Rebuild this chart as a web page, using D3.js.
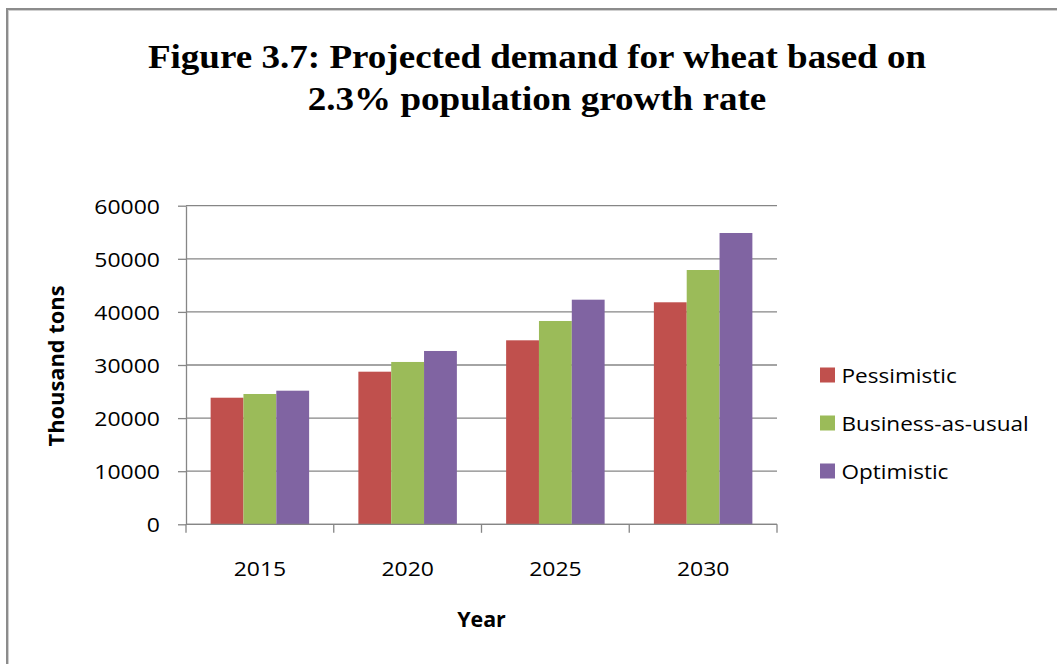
<!DOCTYPE html>
<html>
<head>
<meta charset="utf-8">
<script src="https://cdn.jsdelivr.net/npm/d3@7"></script>
<style>
  html, body { margin: 0; padding: 0; background: #fff; }
  svg { display: block; }
</style>
</head>
<body>
<script>
// ---- data ----
const years = ["2015", "2020", "2025", "2030"];
const seriesNames = ["Pessimistic", "Business-as-usual", "Optimistic"];
const pessimistic = [23840, 28740, 34650, 41810];
const businessAsUsual = [24540, 30570, 38290, 47890];
const optimistic = [25160, 32640, 42300, 54860];
const yTicks = [0, 10000, 20000, 30000, 40000, 50000, 60000];
const titleLines = ["Figure 3.7: Projected demand for wheat based on", "2.3% population growth rate"];
const yAxisTitle = "Thousand tons";
const xAxisTitle = "Year";
const seriesColors = ["#C0504D", "#9BBB59", "#8064A2"];

const seriesValues = [pessimistic, businessAsUsual, optimistic];
const rows = [];
years.forEach((yr, i) => seriesNames.forEach((s, j) => rows.push({ year: yr, series: s, value: seriesValues[j][i] })));

// ---- layout ----
const W = 1057, H = 664;
const plot = { left: 186, right: 777, top: 205.7, bottom: 524.3 };
const gridColor = "#868686";
const sansFont = "'Open Sans', 'Noto Sans', sans-serif";

// stretch text along its run so the glyphs take the wider set width
function widen(sel, k) {
  sel.each(function () {
    const len = this.getComputedTextLength();
    this.setAttribute("textLength", len * k);
    this.setAttribute("lengthAdjust", "spacingAndGlyphs");
  });
}

const svg = d3.select("body").append("svg").attr("width", W).attr("height", H);

// chart frame
svg.append("rect").attr("x", 7).attr("y", 9).attr("width", W + 40).attr("height", H + 40)
  .attr("fill", "none").attr("stroke", "#8c8c8c").attr("stroke-width", 2);
svg.append("rect").attr("x", 8.5).attr("y", 10.5).attr("width", W + 40).attr("height", H + 40)
  .attr("fill", "none").attr("stroke", "#cfcfcf").attr("stroke-width", 1);

// title
const title = svg.append("g").attr("transform", "translate(537,0)");
title.selectAll("text").data(titleLines).join("text")
  .attr("x", 0).attr("y", (d, i) => 68 + i * 42)
  .attr("text-anchor", "middle")
  .attr("font-family", "'Liberation Serif', 'Times New Roman', serif")
  .attr("font-weight", "bold").attr("font-size", 34).attr("fill", "#000")
  .text(d => d)
  .call(widen, 1.09);

// scales
const x = d3.scaleBand().domain(years).range([plot.left, plot.right])
  .paddingInner(1 / 3).paddingOuter(1 / 6);
const xs = d3.scaleBand().domain(seriesNames).range([0, x.bandwidth()]);
const y = d3.scaleLinear().domain([0, 60000]).range([plot.bottom, plot.top]);
const color = d3.scaleOrdinal().domain(seriesNames).range(seriesColors);

// horizontal gridlines
svg.append("g").selectAll("line").data(yTicks).join("line")
  .attr("x1", plot.left).attr("x2", plot.right)
  .attr("y1", d => y(d)).attr("y2", d => y(d))
  .attr("stroke", gridColor).attr("stroke-width", 1.3);

// y axis
const yAxis = svg.append("g").attr("transform", `translate(${plot.left},0)`)
  .call(d3.axisLeft(y).tickValues(yTicks).tickFormat(d3.format("d"))
    .tickSizeInner(8).tickSizeOuter(0).tickPadding(18));
yAxis.select(".domain").attr("stroke", gridColor).attr("stroke-width", 1.3);
yAxis.selectAll(".tick line").attr("stroke", gridColor).attr("stroke-width", 1.3);
yAxis.selectAll(".tick text")
  .attr("font-family", sansFont).attr("font-size", 20.5).attr("fill", "#000")
  .attr("dy", "0.36em")
  .call(widen, 1.12);

// bars
svg.append("g").selectAll("rect").data(rows).join("rect")
  .attr("x", d => x(d.year) + xs(d.series))
  .attr("width", xs.bandwidth())
  .attr("y", d => y(d.value))
  .attr("height", d => y(0) - y(d.value))
  .attr("fill", d => color(d.series));

// x axis line and category boundary ticks
svg.append("line")
  .attr("x1", plot.left).attr("x2", plot.right)
  .attr("y1", plot.bottom).attr("y2", plot.bottom)
  .attr("stroke", gridColor).attr("stroke-width", 1.3);
svg.append("g").selectAll("line").data(d3.range(years.length + 1)).join("line")
  .attr("x1", i => plot.left + i * x.step()).attr("x2", i => plot.left + i * x.step())
  .attr("y1", plot.bottom).attr("y2", plot.bottom + 8.5)
  .attr("stroke", gridColor).attr("stroke-width", 1.3);

const xAxis = svg.append("g").attr("transform", `translate(0,${plot.bottom})`)
  .call(d3.axisBottom(x).tickSize(0).tickPadding(0));
xAxis.select(".domain").remove();
xAxis.selectAll(".tick text")
  .attr("y", 576 - plot.bottom).attr("dy", 0)
  .attr("font-family", sansFont).attr("font-size", 20.5).attr("fill", "#000")
  .call(widen, 1.12);

// axis titles
svg.append("text")
  .attr("transform", "translate(64,366) rotate(-90)")
  .attr("text-anchor", "middle")
  .attr("font-family", sansFont).attr("font-weight", "bold").attr("font-size", 21).attr("fill", "#000")
  .text(yAxisTitle)
  .call(widen, 1.04);
svg.append("text")
  .attr("x", (plot.left + plot.right) / 2).attr("y", 627)
  .attr("text-anchor", "middle")
  .attr("font-family", sansFont).attr("font-weight", "bold").attr("font-size", 21).attr("fill", "#000")
  .text(xAxisTitle)
  .call(widen, 1.02);

// legend
const legend = svg.append("g").selectAll("g").data(seriesNames).join("g")
  .attr("transform", (d, i) => `translate(820,${375 + i * 48})`);
legend.append("rect").attr("x", 0).attr("y", -7.5).attr("width", 15).attr("height", 15)
  .attr("fill", d => color(d));
legend.append("text").attr("x", 21.5).attr("y", 7.5)
  .attr("font-family", sansFont).attr("font-size", 20.5).attr("fill", "#000")
  .text(d => d)
  .call(widen, 1.1);
</script>
</body>
</html>
